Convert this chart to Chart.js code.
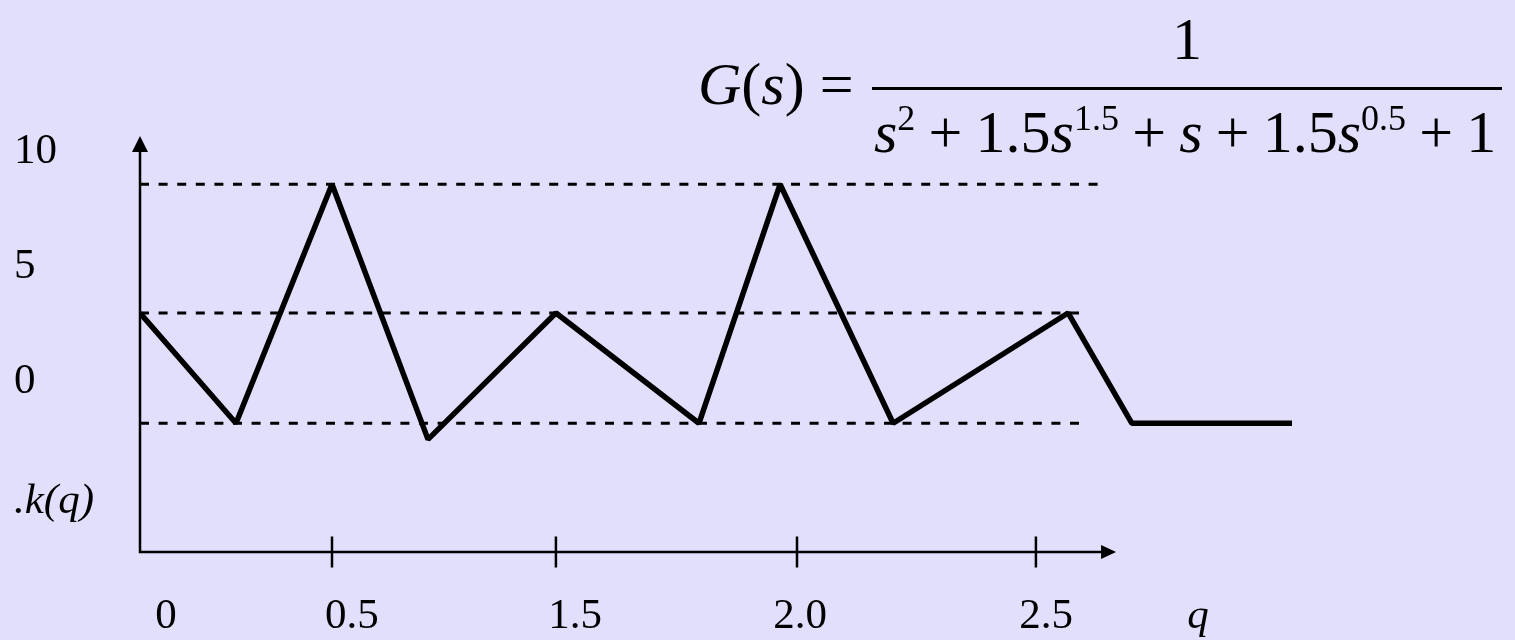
<!DOCTYPE html>
<html>
<head>
<meta charset="utf-8">
<script src="https://cdn.jsdelivr.net/npm/chart.js@4"></script>
<style>
  html, body { margin: 0; padding: 0; background: #e2dffc; }
  #wrap { position: relative; width: 1515px; height: 640px; overflow: hidden; }
  #kChart { position: absolute; left: 0; top: 0; }
  .f { position: absolute; font-family: "Liberation Serif", serif; font-size: 60px; line-height: 1; color: #000; white-space: nowrap; }
  .f sup { font-size: 0.6em; vertical-align: 0.62em; }
  .op { margin: 0 0.22em; }
  .eq { margin-left: 0.25em; }
  #bar { position: absolute; left: 872px; top: 87px; width: 630px; height: 3px; background: #000; }
</style>
</head>
<body>
<div id="wrap">
  <canvas id="kChart" width="1515" height="640"></canvas>
  <div class="f" id="lhs" style="left:698px; top:54px;"><i>G</i>(<i>s</i>)<span class="eq">=</span></div>
  <div class="f" id="num" style="left:872px; width:630px; text-align:center; top:9px;">1</div>
  <div id="bar"></div>
  <div class="f" id="den" style="left:874px; top:100px;"><i>s</i><sup>2</sup><span class="op">+</span>1.5<i>s</i><sup>1.5</sup><span class="op">+</span><i>s</i><span class="op">+</span>1.5<i>s</i><sup>0.5</sup><span class="op">+</span>1</div>
</div>
<script>
// k(q) polyline
const qPoints = [0, 0.4, 0.8, 1.2, 1.733, 2.329, 2.667, 3.138, 3.867, 4.133, 4.8];
const kValues = [3, -1.8, 8.6, -2.5, 3, -1.8, 8.6, -1.8, 3, -1.8, -1.8];

// dashed reference levels and where they stop
const refLevels = [8.6, 3, -1.8];
const refEnds = [4.0, 3.93, 3.93];

// axis ticks / labels
const xTickPos = [0.8, 1.733, 2.7375, 3.733];
const xLabelPos = [0.108, 0.883, 1.813, 2.75, 3.775, 4.408];
const xLabels = ['0', '0.5', '1.5', '2.0', '2.5', 'q'];
const yTickVals = [10, 5, 0, -5.2];
const yLabels = ['10', '5', '0', '.k(q)'];

const xMax = 5;
const xArrowEnd = 4.067;
const yMin = -7.4;
const yMax = 10.7;

const canvas = document.querySelector('#kChart');

function makeDatasets() {
  const datasets = [];
  for (let i = 0; i < refLevels.length; i++) {
    datasets.push({
      data: [{x: 0, y: refLevels[i]}, {x: refEnds[i], y: refLevels[i]}],
      borderColor: '#000',
      borderWidth: 3,
      borderDash: [9, 9.6],
      pointRadius: 0,
      fill: false,
    });
  }
  const pts = [];
  for (let i = 0; i < qPoints.length; i++) {
    pts.push({x: qPoints[i], y: kValues[i]});
  }
  datasets.push({
    data: pts,
    borderColor: '#000',
    borderWidth: 5.5,
    borderJoinStyle: 'bevel',
    pointRadius: 0,
    tension: 0,
    fill: false,
  });
  return datasets;
}

// axis lines with arrow heads and the crossing tick marks
const axesPlugin = {
  id: 'axesPlugin',
  afterDatasetsDraw(chart) {
    const ctx = chart.ctx;
    const area = chart.chartArea;
    const xs = chart.scales.x;
    const x0 = area.left;
    const y0 = area.bottom;
    const xEnd = xs.getPixelForValue(xArrowEnd);
    ctx.save();
    ctx.strokeStyle = '#000';
    ctx.fillStyle = '#000';
    ctx.lineWidth = 2.5;
    ctx.beginPath();
    ctx.moveTo(x0, y0);
    ctx.lineTo(x0, area.top + 14);
    ctx.moveTo(x0 - 1.25, y0);
    ctx.lineTo(xEnd - 13, y0);
    ctx.stroke();
    // arrow heads
    ctx.beginPath();
    ctx.moveTo(x0, area.top);
    ctx.lineTo(x0 - 8, area.top + 16);
    ctx.lineTo(x0 + 8, area.top + 16);
    ctx.closePath();
    ctx.fill();
    ctx.beginPath();
    ctx.moveTo(xEnd, y0);
    ctx.lineTo(xEnd - 15, y0 - 7);
    ctx.lineTo(xEnd - 15, y0 + 7);
    ctx.closePath();
    ctx.fill();
    // ticks
    ctx.lineWidth = 2.5;
    ctx.beginPath();
    for (const v of xTickPos) {
      const px = xs.getPixelForValue(v);
      ctx.moveTo(px, y0 - 15.5);
      ctx.lineTo(px, y0 + 15.5);
    }
    ctx.stroke();
    ctx.restore();
  }
};

function drawChart() {
  new Chart(canvas.getContext('2d'), {
    type: 'line',
    data: { datasets: makeDatasets() },
    plugins: [axesPlugin],
    options: {
      responsive: false,
      animation: false,
      layout: { padding: { left: 14, top: 136, right: 175, bottom: 0 } },
      plugins: { legend: { display: false }, tooltip: { enabled: false } },
      scales: {
        x: {
          type: 'linear',
          min: 0,
          max: xMax,
          grid: { display: false, drawTicks: false },
          border: { display: false },
          afterBuildTicks: (axis) => { axis.ticks = xLabelPos.map(v => ({ value: v })); },
          afterFit: (axis) => { axis.height = 88; },
          ticks: {
            autoSkip: false,
            maxRotation: 0,
            minRotation: 0,
            padding: 39,
            color: '#000',
            font: (c) => ({ family: 'Liberation Serif', size: 43, style: c.index === 5 ? 'italic' : 'normal' }),
            callback: (val, i) => xLabels[i],
          },
        },
        y: {
          type: 'linear',
          min: yMin,
          max: yMax,
          grid: { display: false, drawTicks: false },
          border: { display: false },
          afterBuildTicks: (axis) => { axis.ticks = yTickVals.map(v => ({ value: v })); },
          afterFit: (axis) => { axis.width = 126; },
          ticks: {
            autoSkip: false,
            crossAlign: 'far',
            color: '#000',
            font: (c) => ({ family: 'Liberation Serif', size: 43, style: c.index === 3 ? 'italic' : 'normal' }),
            callback: (val, i) => yLabels[i],
          },
        },
      },
    },
  });
}

window.addEventListener('load', () => {
  drawChart();
});
</script>
</body>
</html>
